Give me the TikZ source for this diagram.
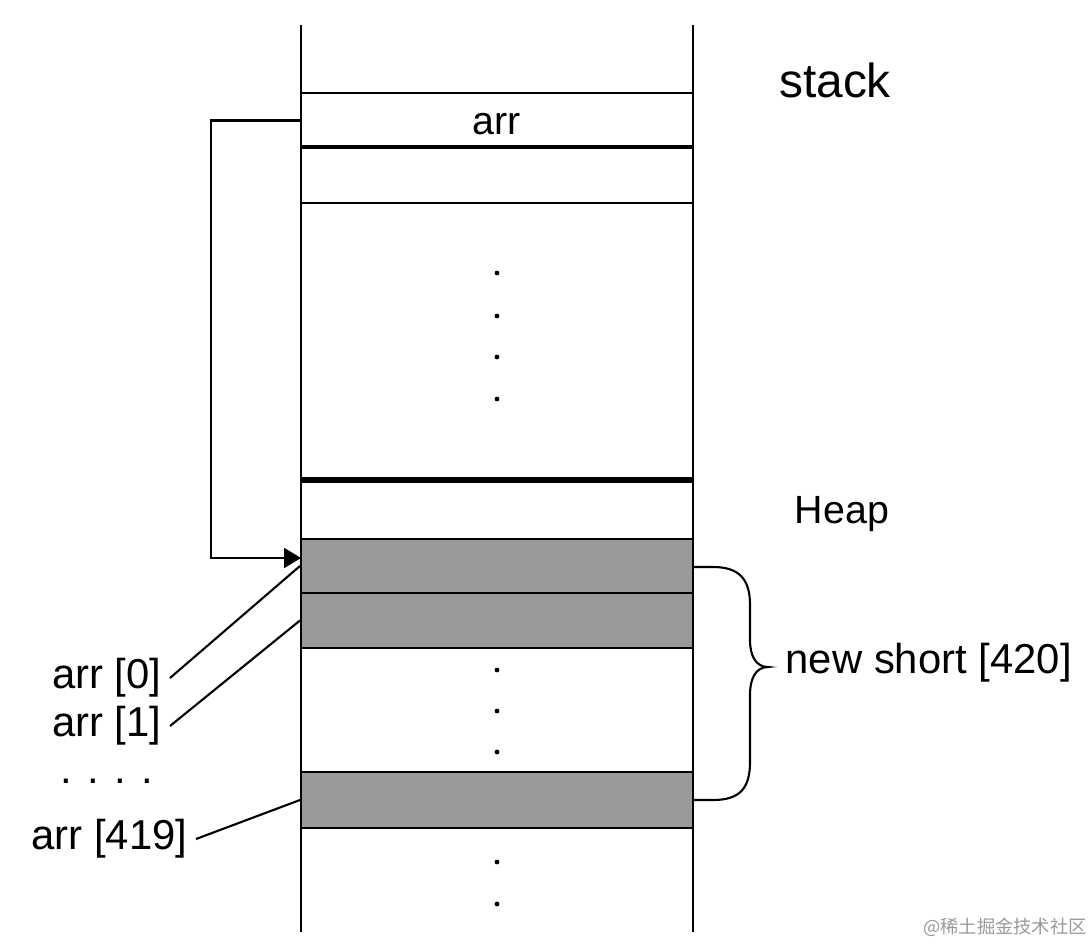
\documentclass[tikz,border=0pt]{standalone}
\usepackage{fontspec}
\setmainfont{Liberation Sans}
\newfontfamily\cjkfont{Noto Sans CJK SC}
\usetikzlibrary{arrows.meta}

\begin{document}
\begin{tikzpicture}[>={Triangle[length=.17cm, width=.2cm]}, line join=miter,
    cell/.style={draw, line width=.6pt, minimum width=3.92cm, inner sep=0pt, font=\fontsize{11.2}{13}\selectfont},
    shaded/.style={cell, fill=black!40},
    lbl/.style={anchor=east, inner sep=.08cm, font=\fontsize{11.9}{14}\selectfont}]
  \useasboundingbox (0,0) rectangle (10.92,-9.44);
  % memory column
  \draw[line width=.6pt] (3.01,-.25) -- (3.01,-9.32);
  \draw[line width=.6pt] (6.93,-.25) -- (6.93,-9.32);
  \node[cell, minimum height=.55cm] (arrcell) at (4.97,-1.205) {};
  \node[font=\fontsize{11.2}{13}\selectfont] (arrtxt) at (4.97,-1.24) {arr};
  \node[cell, minimum height=.55cm] (freecell) at (4.97,-1.755) {};
  \draw[line width=.9pt] (freecell.north west) -- (freecell.north east);
  \node[cell, minimum height=.58cm] (heapcell) at (4.97,-5.10) {};
  \draw[line width=1.5pt] (heapcell.north west) -- (heapcell.north east);
  \node[shaded, minimum height=.54cm] (elem0) at (4.97,-5.66) {};
  \node[shaded, minimum height=.55cm] (elem1) at (4.97,-6.205) {};
  \node[shaded, minimum height=.56cm] (elemlast) at (4.97,-8.00) {};
  \foreach \y in {2.73,3.16,3.57,3.99,6.70,7.11,7.52,8.62,9.04}
    \fill (4.97,-\y) circle (.024);
  % titles
  \node[font=\fontsize{13.6}{16}\selectfont] (stacklbl) at (8.35,-.80) {stack};
  \node[font=\fontsize{11.2}{13}\selectfont] (heaplbl) at (8.42,-5.14) {Heap};
  % pointer from arr into the heap
  \coordinate (ptr) at (3.01,-5.58);
  \draw[->, line width=.6pt] (arrcell.west) -- ++(-.89,0) |- (ptr);
  % element labels
  \node[lbl] (lbl0) at (1.70,-6.78) {arr [0]};
  \node[lbl] (lbl1) at (1.70,-7.26) {arr [1]};
  \node[lbl] (lbldots) at (1.62,-7.81) {. . . .};
  \node[lbl] (lbllast) at (1.96,-8.39) {arr [419]};
  \draw[line width=.6pt] (lbl0.east) -- (elem0.west);
  \draw[line width=.6pt] (lbl1.east) -- (elem1.west);
  \draw[line width=.6pt] (lbllast.east) -- (elemlast.west);
  % brace
  \draw[line width=.6pt] (6.93,-5.67) -- (7.13,-5.67)
    .. controls (7.40,-5.67) and (7.50,-5.80) .. (7.50,-6.05) -- (7.50,-6.40)
    .. controls (7.50,-6.56) and (7.56,-6.67) .. (7.68,-6.67)
    .. controls (7.56,-6.67) and (7.50,-6.78) .. (7.50,-6.95) -- (7.50,-7.62)
    .. controls (7.50,-7.88) and (7.40,-8.00) .. (7.13,-8.00) -- (6.93,-8.00);
  \node[anchor=west, inner sep=0pt, font=\fontsize{11.9}{14}\selectfont] (sizelbl) at (7.85,-6.63) {new short [420]};
  % watermark
  \node[black!40, inner sep=0pt, font=\cjkfont\fontsize{5.2}{6}\selectfont] (mark) at (10.05,-9.27) {@稀土掘金技术社区};
\end{tikzpicture}
\end{document}
